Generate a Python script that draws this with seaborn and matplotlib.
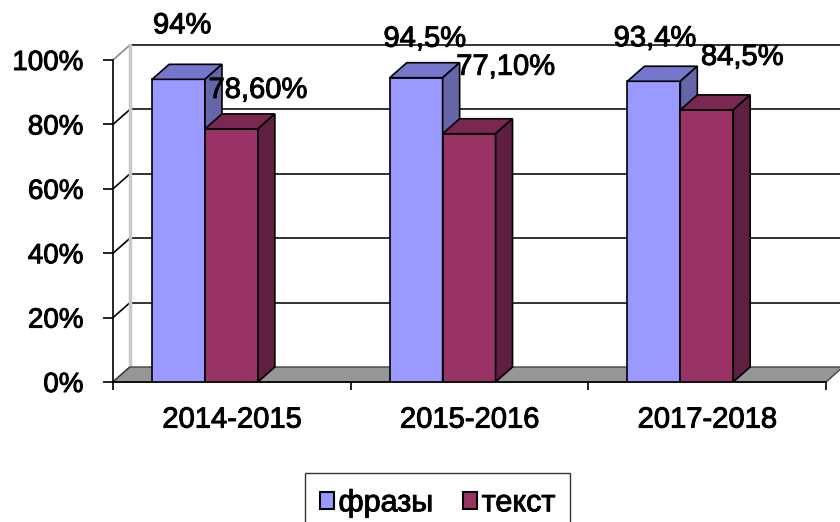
import pandas as pd
import matplotlib
matplotlib.use('Agg')
import matplotlib.pyplot as plt
import matplotlib.patheffects as pe
from matplotlib.patches import Polygon
import seaborn as sns

# ----------- DONNÉES -------------
years = ['2014-2015', '2015-2016', '2017-2018']
series = ['фразы', 'текст']
phrases = [94.0, 94.5, 93.4]
text = [78.6, 77.1, 84.5]
labels_phrases = ['94%', '94,5%', '93,4%']
labels_text = ['78,60%', '77,10%', '84,5%']
y_ticks = [0, 20, 40, 60, 80, 100]

# ----------- STYLE -------------
front_colors = ['#9999ff', '#993366']
top_colors = ['#7676cc', '#7a2852']
side_colors = ['#6565a8', '#5e1f40']
# décalage des étiquettes (pixels) par série
label_offsets = [[(3.5, 54), (8.5, 39), (1, 43)],
                 [(26.5, 39), (36.5, 67), (35.5, 53)]]
PX_X = 237.7          # pixels par catégorie
PX_Y = 322 / 100      # pixels par point de %
DX = 17 / PX_X        # profondeur 3D en unités de données
DY = 15 / PX_Y
thick = [pe.withStroke(linewidth=0.7, foreground='black')]  # texte un peu plus gras

sns.set_style('white')
plt.rcParams['font.family'] = ['Liberation Sans', 'DejaVu Sans']
plt.rcParams['text.color'] = 'black'
plt.rcParams['xtick.color'] = 'black'
plt.rcParams['ytick.color'] = 'black'

df = pd.DataFrame({
    'year': years * 2,
    'series': [series[0]] * len(years) + [series[1]] * len(years),
    'value': phrases + text,
})

fig = plt.figure(figsize=(8.4, 5.22), dpi=100)
ax = fig.add_axes([113 / 840, 1 - 382 / 522, 713 / 840, 322 / 522])

sns.barplot(data=df, x='year', y='value', hue='series', palette=front_colors,
            width=0.445, saturation=1, errorbar=None, edgecolor='black',
            linewidth=1.2, ax=ax)

xl, xr = -0.387, 2.613
ax.set_xlim(xl, xr)
ax.set_ylim(0, 100)

# ----------- MURS / SOL -------------
for v in y_ticks:
    c = '#888888' if v == 100 else 'black'
    ax.plot([xl, xl + DX], [v, v + DY], color=c, lw=1.2, clip_on=False, zorder=1)
    if v > 0:
        ax.plot([xl + DX, xr + DX], [v + DY, v + DY], color='#222222', lw=1.3,
                clip_on=False, zorder=1)
ax.plot([xl + DX, xl + DX], [DY, 100 + DY], color='#c8c8c8', lw=2.5,
        clip_on=False, zorder=1)
floor = Polygon([(xl, 0), (xr, 0), (xr + DX, DY), (xl + DX, DY)],
                closed=True, fc='#969696', ec='#444444', lw=1, clip_on=False, zorder=2)
ax.add_patch(floor)

# ----------- FACES 3D -------------
for i, container in enumerate(ax.containers):
    for bar in container:
        x0, w, h = bar.get_x(), bar.get_width(), bar.get_height()
        bar.set_zorder(3 + i)
        top = Polygon([(x0, h), (x0 + DX, h + DY), (x0 + w + DX, h + DY), (x0 + w, h)],
                      closed=True, fc=top_colors[i], ec='black', lw=1.2, zorder=3 + i)
        side = Polygon([(x0 + w, 0), (x0 + w, h), (x0 + w + DX, h + DY), (x0 + w + DX, DY)],
                       closed=True, fc=side_colors[i], ec='black', lw=1.2, zorder=3 + i)
        ax.add_patch(top)
        ax.add_patch(side)

# ----------- ÉTIQUETTES -------------
for i, (container, labs) in enumerate(zip(ax.containers, [labels_phrases, labels_text])):
    for j, (bar, lab) in enumerate(zip(container, labs)):
        cx = bar.get_x() + bar.get_width() / 2
        ax.annotate(lab, (cx, bar.get_height()), xytext=label_offsets[i][j],
                    textcoords='offset pixels', ha='center', va='center',
                    fontsize=21, zorder=6, annotation_clip=False, path_effects=thick)

# ----------- AXES -------------
sns.despine(ax=ax, top=True, right=True)
for s in ['left', 'bottom']:
    ax.spines[s].set_color('black')
    ax.spines[s].set_linewidth(1.2)
ax.set_yticks(y_ticks)
ax.set_yticklabels([f'{v}%' for v in y_ticks])
ax.tick_params(axis='y', length=7.2, width=1.2, pad=14, labelsize=20, left=True)
ax.set_xticks([xl + k for k in range(len(years) + 1)])
ax.set_xticklabels([''] * (len(years) + 1))
ax.set_xticks([xl + 0.5 + k for k in range(len(years))], minor=True)
ax.set_xticklabels(years, minor=True)
ax.tick_params(axis='x', which='major', length=6, width=1.2, bottom=True)
ax.tick_params(axis='x', which='minor', length=0, pad=17, labelsize=21)
ax.set_xlabel('')
ax.set_ylabel('')
for t in ax.get_yticklabels() + ax.get_xticklabels(minor=True):
    t.set_path_effects(thick)

# ----------- LÉGENDE -------------
handles, labels = ax.get_legend_handles_labels()
ax.get_legend().remove()
for h in handles:
    h.set_edgecolor('black')
    h.set_linewidth(1.5)
leg = fig.legend(handles, labels, loc='upper center',
                 bbox_to_anchor=(437.5 / 840, 1 - 473 / 522), ncol=2, fontsize=22,
                 frameon=True, fancybox=False, edgecolor='black',
                 handlelength=0.45, handleheight=0.45, handletextpad=0.15,
                 columnspacing=1.0, borderpad=0.5, borderaxespad=0)
leg.get_frame().set_linewidth(1.0)
for t in leg.get_texts():
    t.set_path_effects(thick)

fig.savefig('out.png', dpi=100)
